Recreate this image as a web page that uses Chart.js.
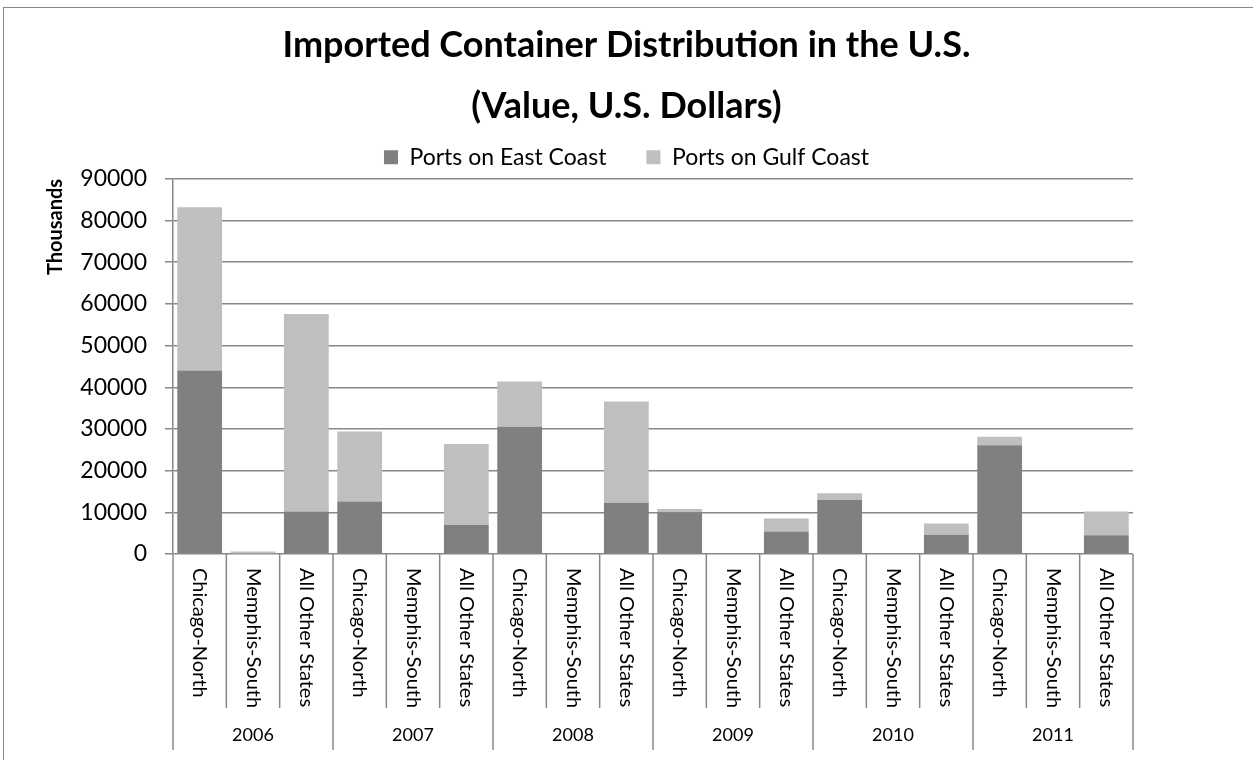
<!DOCTYPE html>
<html><head><meta charset="utf-8">
<script src="https://cdn.jsdelivr.net/npm/chart.js@4.4.1/dist/chart.umd.min.js"></script>
<style>html,body{margin:0;padding:0;background:#fff;}#wrap{width:1253px;height:760px;position:relative;}</style>
</head><body><div id="wrap"><canvas id="c"></canvas></div>
<script>
const years = ['2006', '2007', '2008', '2009', '2010', '2011'];
const regions = ['Chicago-North', 'Memphis-South', 'All Other States'];
const eastCoast = [44000, 100, 10200, 12600, 0, 7000, 30500, 0, 12300, 10000, 0, 5400, 13000, 0, 4600, 26100, 0, 4500];
const gulfCoast = [39200, 500, 47400, 16800, 0, 19400, 10900, 0, 24300, 800, 0, 3100, 1600, 0, 2700, 2000, 0, 5700];
const yTicks = [0, 10000, 20000, 30000, 40000, 50000, 60000, 70000, 80000, 90000];

const labels = [];
years.forEach(() => regions.forEach(r => labels.push(r)));

const FONT = 'Lato';

const axisDecor = {
  id: 'axisDecor',
  afterDraw(chart) {
    const ctx = chart.ctx, xs = chart.scales.x, a = chart.chartArea;
    const n = labels.length;
    const bounds = [];
    for (let i = 0; i <= n; i++) {
      if (i === 0) bounds.push(a.left);
      else if (i === n) bounds.push(a.right);
      else bounds.push((xs.getPixelForValue(i - 1) + xs.getPixelForValue(i)) / 2);
    }
    ctx.save();
    ctx.strokeStyle = '#888888';
    ctx.lineWidth = 1.5;
    bounds.forEach((b, i) => {
      const isGroup = i % regions.length === 0;
      ctx.beginPath();
      ctx.moveTo(b, a.bottom);
      ctx.lineTo(b, a.bottom + (isGroup ? 196 : 154));
      ctx.stroke();
    });
    ctx.fillStyle = '#000';
    ctx.font = '20px ' + FONT;
    ctx.textBaseline = 'middle';
    ctx.textAlign = 'left';
    labels.forEach((lab, i) => {
      const px = xs.getPixelForValue(i);
      ctx.save();
      ctx.translate(px, a.bottom + 14);
      ctx.rotate(Math.PI / 2);
      ctx.fillText(lab, 0, 0);
      ctx.restore();
    });
    ctx.textAlign = 'center';
    ctx.font = '18px ' + FONT;
    years.forEach((yr, g) => {
      const cx = (bounds[g * 3] + bounds[g * 3 + 3]) / 2;
      ctx.fillText(yr, cx, a.bottom + 181);
    });
    ctx.strokeStyle = '#888888';
    ctx.lineWidth = 1;
    ctx.strokeRect(3.5, 7.5, 1300, 800);
    ctx.restore();
  }
};

new Chart(document.getElementById('c'), {
  type: 'bar',
  data: {
    labels: labels,
    datasets: [
      { label: 'Ports on East Coast', data: eastCoast, backgroundColor: '#808080', borderWidth: 0 },
      { label: 'Ports on Gulf Coast', data: gulfCoast, backgroundColor: '#bfbfbf', borderWidth: 0 }
    ]
  },
  options: {
    responsive: true,
    maintainAspectRatio: false,
    animation: false,
    devicePixelRatio: 1,
    datasets: { bar: { barPercentage: 0.84, categoryPercentage: 1.0 } },
    layout: { padding: { left: 0, right: 0, top: 0, bottom: 0 } },
    plugins: {
      title: {
        display: true,
        text: ['Imported Container Distribution in the U.S.', '(Value, U.S. Dollars)'],
        font: { family: FONT, size: 36, weight: 'bold', lineHeight: 1.72 },
        color: '#000',
        padding: { top: 14, bottom: -32 }
      },
      legend: {
        display: true,
        position: 'top',
        labels: {
          boxWidth: 14, boxHeight: 14,
          font: { family: FONT, size: 23 },
          color: '#000',
          padding: 40
        }
      },
      tooltip: { enabled: false }
    },
    scales: {
      x: {
        stacked: true,
        ticks: { display: false },
        grid: { display: false },
        border: { display: false },
        afterFit(s) { s.height = 206; }
      },
      y: {
        stacked: true,
        min: 0,
        max: 90000,
        afterBuildTicks(s) { s.ticks = yTicks.map(v => ({ value: v })); },
        ticks: { font: { family: FONT, size: 23 }, color: '#000', padding: 18, callback: v => String(v) },
        grid: { color: '#888888', lineWidth: 1.5, tickLength: 8 },
        border: { color: '#888888', width: 1.5 },
        title: {
          display: true, text: 'Thousands', align: 'end',
          font: { family: FONT, size: 20, weight: 'bold' }, color: '#000',
          padding: { top: 44, bottom: 0 }
        },
        afterFit(s) { s.width = 173; }
      },
      yRight: {
        position: 'right',
        display: true,
        ticks: { display: false },
        grid: { display: false, drawOnChartArea: false },
        border: { display: false },
        afterFit(s) { s.width = 120; }
      }
    }
  },
  plugins: [axisDecor]
});
</script>
</body></html>
